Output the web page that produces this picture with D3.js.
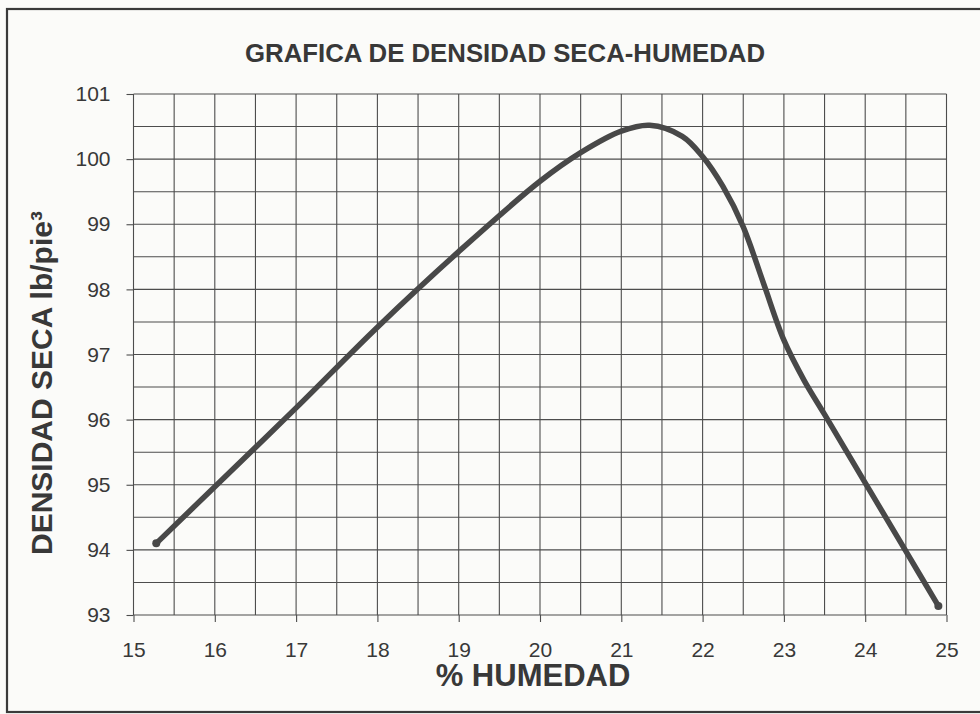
<!DOCTYPE html>
<html>
<head>
<meta charset="utf-8">
<script src="https://cdn.jsdelivr.net/npm/d3@7"></script>
<style>
  html, body { margin: 0; padding: 0; background: #fbfbf9; }
  svg { display: block; }
  text { font-family: Arial, "Liberation Sans", sans-serif; fill: #383838; }
</style>
</head>
<body>
<svg id="chart" width="980" height="714"></svg>
<script>
// Dry density vs. moisture content (compaction curve)
const humedad  = [15.28, 16.0, 17.0, 18.0, 19.0, 20.0, 20.5, 21.0, 21.35, 21.75, 22.0, 22.25, 22.5, 22.75, 23.0, 23.25, 23.5, 24.0, 24.5, 24.9];
const densidad = [94.10, 94.97, 96.18, 97.42, 98.58, 99.66, 100.10, 100.43, 100.52, 100.35, 100.04, 99.58, 98.96, 98.09, 97.22, 96.60, 96.08, 95.03, 93.98, 93.14];

const xTicks = [15, 16, 17, 18, 19, 20, 21, 22, 23, 24, 25];
const yTicks = [93, 94, 95, 96, 97, 98, 99, 100, 101];

const titulo = "GRAFICA DE DENSIDAD SECA-HUMEDAD";
const tituloX = "% HUMEDAD";
const tituloY = "DENSIDAD SECA  lb/pie³";

const svg = d3.select("#chart");
const plot = { left: 133.5, right: 946.5, top: 94, bottom: 615 };

const x = d3.scaleLinear().domain([15, 25]).range([plot.left, plot.right]);
const y = d3.scaleLinear().domain([93, 101]).range([plot.bottom, plot.top]);

// page frame
svg.append("rect")
  .attr("x", 7).attr("y", 9).attr("width", 1000).attr("height", 703)
  .attr("fill", "none").attr("stroke", "#3a3a3a").attr("stroke-width", 2.2);

// half-unit grid
const gridColor = "#4d4d4d";
const gx = d3.range(15, 25.001, 0.5);
const gy = d3.range(93, 101.001, 0.5);
svg.append("g").selectAll("line").data(gx).join("line")
  .attr("x1", d => x(d)).attr("x2", d => x(d))
  .attr("y1", plot.top).attr("y2", plot.bottom)
  .attr("stroke", gridColor).attr("stroke-width", 1.1);
svg.append("g").selectAll("line").data(gy).join("line")
  .attr("x1", plot.left).attr("x2", plot.right)
  .attr("y1", d => y(d)).attr("y2", d => y(d))
  .attr("stroke", gridColor).attr("stroke-width", 1.1);

// axes with outward ticks at whole units
const xAxis = d3.axisBottom(x).tickValues(xTicks).tickSize(7).tickPadding(20).tickFormat(d3.format("d"));
const yAxis = d3.axisLeft(y).tickValues(yTicks).tickSize(7).tickPadding(16).tickFormat(d3.format("d"));

const gxa = svg.append("g").attr("transform", `translate(0,${plot.bottom})`).call(xAxis);
const gya = svg.append("g").attr("transform", `translate(${plot.left},0)`).call(yAxis);
[gxa, gya].forEach(g => {
  g.select(".domain").remove();
  g.selectAll(".tick line").attr("stroke", gridColor).attr("stroke-width", 1.1);
  g.selectAll(".tick text").attr("font-size", 21).attr("fill", "#383838")
    .attr("font-family", "Arial, 'Liberation Sans', sans-serif");
});

// curve
const pts = humedad.map((h, i) => [h, densidad[i]]);
const line = d3.line().x(d => x(d[0])).y(d => y(d[1])).curve(d3.curveCatmullRom.alpha(0.5));
svg.append("path").datum(pts).attr("d", line)
  .attr("fill", "none").attr("stroke", "#484848").attr("stroke-width", 5.5)
  .attr("stroke-linecap", "round").attr("stroke-linejoin", "round");
svg.append("g").selectAll("circle").data([pts[0], pts[pts.length - 1]]).join("circle")
  .attr("cx", d => x(d[0])).attr("cy", d => y(d[1])).attr("r", 4).attr("fill", "#484848");

// titles
svg.append("text").attr("x", 505).attr("y", 62).attr("text-anchor", "middle")
  .attr("font-size", 26).attr("font-weight", "bold")
  .attr("textLength", 520).attr("lengthAdjust", "spacingAndGlyphs").text(titulo);

svg.append("text").attr("x", 533).attr("y", 686).attr("text-anchor", "middle")
  .attr("font-size", 31).attr("font-weight", "bold").text(tituloX);

svg.append("text").attr("transform", "translate(52,555) rotate(-90)")
  .attr("text-anchor", "start").attr("font-size", 30).attr("font-weight", "bold")
  .text(tituloY);
</script>
</body>
</html>
